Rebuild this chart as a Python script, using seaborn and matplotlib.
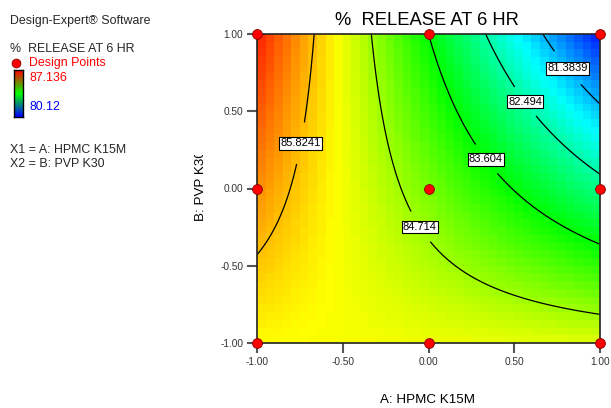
import numpy as np
import pandas as pd
import matplotlib
matplotlib.use("Agg")
import matplotlib.pyplot as plt
import seaborn as sns
from matplotlib.colors import LinearSegmentedColormap
from matplotlib.transforms import Bbox, TransformedBbox

# ---------------- data ----------------
A_levels = [-1.0, 0.0, 1.0]
B_levels = [-1.0, 0.0, 1.0]
# % release at 6 hr at the design points (rows: B = -1, 0, +1 ; cols: A = -1, 0, +1)
release_B_low = [85.380, 85.274, 85.168]
release_B_mid = [86.157, 84.439, 82.721]
release_B_high = [86.934, 83.604, 80.274]
contour_levels = [81.3839, 82.494, 83.604, 84.714, 85.8241]
legend_high = 87.136
legend_low = 80.12
tick_values = [-1.0, -0.5, 0.0, 0.5, 1.0]
tick_labels = ["-1.00", "-0.50", "0.00", "0.50", "1.00"]

rows = [release_B_low, release_B_mid, release_B_high]
df = pd.DataFrame(
    [(a, b, r) for b, row in zip(B_levels, rows) for a, r in zip(A_levels, row)],
    columns=["A", "B", "release"],
)

# quadratic response-surface model fitted to design points
X = np.column_stack([np.ones(len(df)), df.A, df.B, df.A * df.B, df.A ** 2, df.B ** 2])
coef, *_ = np.linalg.lstsq(X, df.release.values, rcond=None)


def model(a, b):
    return (coef[0] + coef[1] * a + coef[2] * b + coef[3] * a * b
            + coef[4] * a ** 2 + coef[5] * b ** 2)


# ---------------- style ----------------
sns.set_style("white")
plt.rcParams["font.family"] = ["Liberation Sans", "DejaVu Sans"]

W, H = 611, 408
fig = plt.figure(figsize=(W / 100, H / 100), dpi=100)
fig.patch.set_facecolor("white")

x0, x1, y0, y1 = 257, 600, 34, 343
ax = fig.add_axes([x0 / W, 1 - y1 / H, (x1 - x0) / W, (y1 - y0) / H])

cmap = LinearSegmentedColormap.from_list(
    "de", ["#0000ff", "#00ffff", "#00ff00", "#ffff00", "#ff0000"])

n = 40
edges = np.linspace(-1, 1, n + 1)
centers = (edges[:-1] + edges[1:]) / 2
CA, CB = np.meshgrid(centers, centers)
ax.pcolormesh(edges, edges, model(CA, CB), cmap=cmap,
              vmin=legend_low, vmax=legend_high, shading="flat", zorder=1)

fine = np.linspace(-1, 1, 300)
FA, FB = np.meshgrid(fine, fine)
cs = ax.contour(FA, FB, model(FA, FB), levels=contour_levels,
                colors="black", linewidths=0.9, zorder=2)
label_pos = [(0.825, 0.793), (0.522, 0.528), (0.353, 0.204),
             (0.015, -0.204), (-0.691, 0.282)]
labels = ax.clabel(cs, inline=True, fontsize=8.0, manual=label_pos,
                   fmt=lambda v: f"{v:g}", inline_spacing=1)
for t in labels:
    t.set_bbox(dict(facecolor="white", edgecolor="black", linewidth=0.8, pad=1.0))
    t.set_rotation(0)
    t.set_zorder(4)

sns.scatterplot(data=df, x="A", y="B", ax=ax, color="#ff0000",
                edgecolor="#800000", linewidth=0.6, s=50, zorder=5,
                clip_on=False, legend=False)

ax.set_xlim(-1, 1)
ax.set_ylim(-1, 1)
ax.set_xticks(tick_values)
ax.set_xticklabels(tick_labels)
ax.set_yticks(tick_values)
ax.set_yticklabels(tick_labels)
ax.tick_params(axis="both", direction="out", length=7, width=1.5,
               color="#555555", labelsize=7.3, labelcolor="#333333", pad=3,
               bottom=True, left=True)
ax.set_xlabel("")
ax.set_ylabel("")
for sp in ax.spines.values():
    sp.set_visible(True)
    sp.set_color("#222222")
    sp.set_linewidth(1.2)

# title and axis labels
fig.text(427 / W, 1 - 20.5 / H, "%  RELEASE AT 6 HR", ha="center", va="center",
         fontsize=13.2, color="black")
fig.text(428 / W, 1 - 400 / H, "A: HPMC K15M", ha="center", va="center",
         fontsize=9.6, color="black")
ylab = fig.text(201 / W, 1 - 221 / H, "B: PVP K30", ha="center", va="bottom",
                rotation=90, fontsize=9.6, color="black")
ylab.set_clip_box(TransformedBbox(Bbox([[0, 0], [1, 1 - 155 / H]]), fig.transFigure))
ylab.set_clip_on(True)

# left-side legend panel
fs = 8.9
fig.text(10 / W, 1 - 21 / H, "Design-Expert\u00ae Software", ha="left", va="center",
         fontsize=fs)
fig.text(10 / W, 1 - 49 / H, "%  RELEASE AT 6 HR", ha="left", va="center", fontsize=fs)
fig.text(29 / W, 1 - 63 / H, "Design Points", ha="left", va="center", fontsize=fs,
         color="#ff0000")
fig.text(29 / W, 1 - 78 / H, f"{legend_high:g}", ha="left", va="center", fontsize=fs,
         color="#ff0000")
fig.text(29 / W, 1 - 107 / H, f"{legend_low:g}", ha="left", va="center", fontsize=fs,
         color="#0000ff")
fig.text(10 / W, 1 - 150 / H, "X1 = A: HPMC K15M", ha="left", va="center", fontsize=fs)
fig.text(10 / W, 1 - 164 / H, "X2 = B: PVP K30", ha="left", va="center", fontsize=fs)

dot_ax = fig.add_axes([0, 0, 1, 1], facecolor="none")
dot_ax.set_xlim(0, W)
dot_ax.set_ylim(H, 0)
dot_ax.axis("off")
dot_ax.scatter([16], [63], s=40, color="#ff0000", edgecolor="#800000", linewidth=0.6)

bar_ax = fig.add_axes([13.5 / W, 1 - 117 / H, 9 / W, 47 / H])
bar_cmap = LinearSegmentedColormap.from_list("bar", ["#0000ff", "#00ff00", "#ff0000"])
bar_ax.imshow(np.linspace(1, 0, 100).reshape(-1, 1), cmap=bar_cmap, aspect="auto",
              extent=[0, 1, 0, 1])
bar_ax.set_xticks([])
bar_ax.set_yticks([])
for sp in bar_ax.spines.values():
    sp.set_visible(True)
    sp.set_color("black")
    sp.set_linewidth(1.0)

fig.savefig("out.png", dpi=100)
